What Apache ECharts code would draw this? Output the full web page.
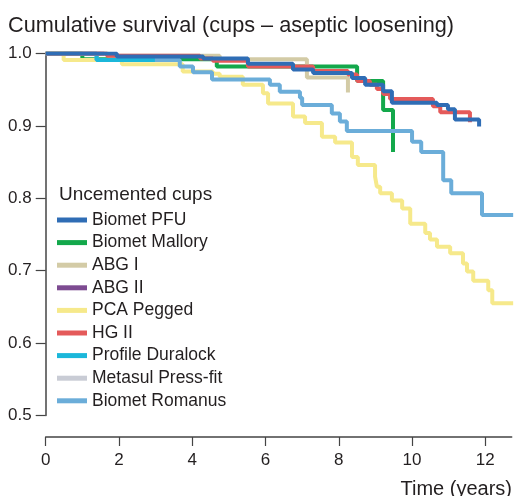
<!DOCTYPE html>
<html>
<head>
<meta charset="utf-8">
<script src="https://cdn.jsdelivr.net/npm/echarts@6/dist/echarts.min.js"></script>
<style>
  html, body { margin: 0; padding: 0; background: #fff; }
  #chart { width: 519px; height: 496px; }
</style>
</head>
<body>
<div id="chart"></div>
<script>
// survival curves: [time in years, cumulative survival]
var biometPFU = [[0, 1], [1.94, 0.996], [4.3, 0.993], [5.52, 0.986], [6.75, 0.978], [7.3, 0.973],
  [8.36, 0.966], [8.72, 0.957], [9.21, 0.948], [9.45, 0.932], [10.68, 0.929], [10.98, 0.923],
  [11.17, 0.909], [11.83, 0.899]]
var biometMallory = [[0, 1], [1.0, 0.992], [4.67, 0.982], [8.5, 0.962], [9.21, 0.922], [9.48, 0.864]]
var abgI = [[0, 1], [1.7, 0.997], [4.75, 0.992], [7.13, 0.967], [8.25, 0.946]]
var abgII = [[0, 1], [1.6, 1]]
var pcaPegged = [[0, 1], [0.49, 0.991], [2.08, 0.985], [3.74, 0.975], [4.56, 0.972], [4.75, 0.968],
  [5.38, 0.957], [5.93, 0.945], [6.07, 0.931], [6.75, 0.913], [7.08, 0.904], [7.54, 0.885],
  [7.9, 0.877], [8.36, 0.857], [8.52, 0.846], [8.99, 0.830], [9.04, 0.816], [9.13, 0.807],
  [9.45, 0.797], [9.73, 0.786], [9.95, 0.765], [10.36, 0.752], [10.49, 0.743], [10.68, 0.733],
  [11.04, 0.724], [11.39, 0.710], [11.5, 0.699], [11.67, 0.686], [12.08, 0.673], [12.19, 0.655],
  [12.76, 0.655]]
var hgII = [[0, 1], [1.67, 0.997], [4.21, 0.993], [4.56, 0.99], [5.52, 0.982], [7.3, 0.976],
  [8.25, 0.971], [8.5, 0.962], [8.85, 0.957], [9.04, 0.951], [9.21, 0.944], [9.4, 0.937],
  [10.57, 0.927], [10.77, 0.919], [11.58, 0.905]]
var profileDuralock = [[0, 1], [1.39, 0.991], [2.98, 0.991]]
var metasul = [[0, 1], [1.5, 1]]
var biometRomanus = [[0, 1], [1.39, 0.991], [3.66, 0.982], [4.02, 0.974], [4.54, 0.964],
  [6.12, 0.957], [6.39, 0.947], [6.94, 0.939], [7.0, 0.929], [7.81, 0.917], [8.03, 0.906],
  [8.22, 0.893], [10.0, 0.878], [10.25, 0.864], [10.85, 0.825], [11.07, 0.807], [11.91, 0.777],
  [12.76, 0.777]]

var xTicks = [0, 2, 4, 6, 8, 10, 12]
var names = ['Biomet PFU', 'Biomet Mallory', 'ABG I', 'ABG II', 'PCA Pegged', 'HG II',
  'Profile Duralock', 'Metasul Press-fit', 'Biomet Romanus']

var font = 'Liberation Sans, Arial, sans-serif'
var ink = '#231f20'

function curve(name, data, color, z) {
  return {
    name: name,
    type: 'line',
    step: 'end',
    data: data,
    symbol: 'none',
    z: z,
    lineStyle: { width: 4, color: color },
    itemStyle: { color: color },
    emphasis: { disabled: true }
  }
}

var chart = echarts.init(document.getElementById('chart'))

var option = {
  animation: false,
  backgroundColor: '#fff',
  title: [
    { text: 'Cumulative survival (cups – aseptic loosening)', left: 3, top: 10,
      textStyle: { fontFamily: font, fontSize: 21.7, fontWeight: 'normal', color: ink } },
    { text: 'Uncemented cups', left: 54, top: 180,
      textStyle: { fontFamily: font, fontSize: 19, fontWeight: 'normal', color: ink } },
    { text: 'Time (years)', right: 2, top: 474,
      textStyle: { fontFamily: font, fontSize: 20, fontWeight: 'normal', color: ink } }
  ],
  legend: {
    data: names,
    orient: 'vertical',
    left: 52,
    top: 206,
    icon: 'rect',
    itemWidth: 30,
    itemHeight: 5,
    itemGap: 4.6,
    selectedMode: false,
    textStyle: { fontFamily: font, fontSize: 17.5, lineHeight: 17, color: ink }
  },
  grid: { left: 45.7, right: 7.3, top: 53.5, bottom: 80.5 },
  xAxis: {
    type: 'value',
    min: 0,
    max: 12.72,
    offset: 21.5,
    axisLine: { lineStyle: { color: '#444', width: 1.5 } },
    axisTick: { length: 9, customValues: xTicks, lineStyle: { color: '#444', width: 1.2 } },
    axisLabel: { customValues: xTicks, margin: 15, fontFamily: font, fontSize: 17, color: ink },
    splitLine: { show: false }
  },
  yAxis: {
    type: 'value',
    min: 0.5,
    max: 1.0,
    interval: 0.1,
    axisLine: { show: true, lineStyle: { color: '#444', width: 1.5 } },
    axisTick: { show: true, length: 10, lineStyle: { color: '#444', width: 1.2 } },
    axisLabel: {
      margin: 14, fontFamily: font, fontSize: 17, color: ink,
      formatter: function (v) { return v.toFixed(1) }
    },
    splitLine: { show: false }
  },
  series: [
    curve('Biomet PFU', biometPFU, '#2f6db5', 10),
    curve('Biomet Mallory', biometMallory, '#13a84b', 2.5),
    curve('ABG I', abgI, '#d3cba6', 8),
    curve('ABG II', abgII, '#7d4b91', 2),
    curve('PCA Pegged', pcaPegged, '#f6e98b', 3),
    curve('HG II', hgII, '#e45a5a', 9),
    curve('Profile Duralock', profileDuralock, '#1bb7da', 6),
    curve('Metasul Press-fit', metasul, '#c9ccd5', 1),
    curve('Biomet Romanus', biometRomanus, '#6badd9', 5)
  ]
}

chart.setOption(option)
</script>
</body>
</html>
